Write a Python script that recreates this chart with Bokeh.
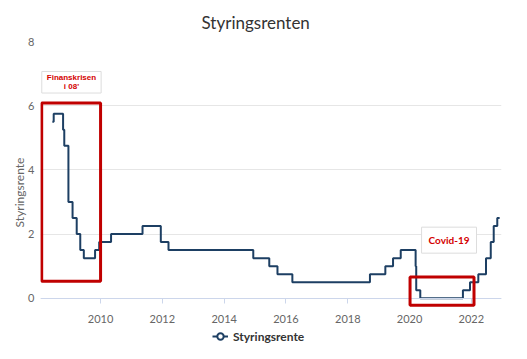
import numpy as np
import pandas as pd
from bokeh.plotting import figure
from bokeh.models import (ColumnDataSource, Range1d, FixedTicker, DatetimeAxis,
                          DatetimeTickFormatter, BoxAnnotation, Label, Legend, LegendItem)
from bokeh.embed import file_html
from bokeh.resources import INLINE

# ---- data (policy rate, step changes) ----
dates = ["2008-06-10", "2008-06-26", "2008-10-15", "2008-10-29", "2008-12-17",
         "2009-02-04", "2009-03-25", "2009-05-06", "2009-06-17", "2009-10-28",
         "2009-12-16", "2010-05-05", "2011-05-12", "2011-12-14", "2012-03-14",
         "2014-12-11", "2015-06-18", "2015-09-23", "2016-03-17", "2018-09-20",
         "2019-03-21", "2019-06-20", "2019-09-19", "2020-03-13", "2020-03-20",
         "2020-05-07", "2021-09-23", "2021-12-16", "2022-03-24", "2022-06-23",
         "2022-08-18", "2022-09-22", "2022-11-03", "2022-12-01"]
rates = [5.5, 5.75, 5.25, 4.75, 3.0,
         2.5, 2.0, 1.5, 1.25, 1.5,
         1.75, 2.0, 2.25, 1.75, 1.5,
         1.25, 1.0, 0.75, 0.5, 0.75,
         1.0, 1.25, 1.5, 1.0, 0.25,
         0.0, 0.25, 0.5, 0.75, 1.25,
         1.75, 2.25, 2.5, 2.5]
y_ticks = [0, 2, 4, 6, 8]
x_tick_years = [2010, 2012, 2014, 2016, 2018, 2020, 2022]
series_name = "Styringsrente"
title_text = "Styringsrenten"

LINE = "#1d3f63"
RED = "#c00000"
FONT = "Lato"

src = ColumnDataSource(dict(x=pd.to_datetime(dates), y=rates))

p = figure(width=511, height=343, x_axis_location=None,
           output_backend="svg", toolbar_location=None,
           x_range=Range1d(pd.Timestamp("2008-01-22"), pd.Timestamp("2022-12-23")),
           y_range=Range1d(-1.41, 8.0),
           min_border_left=40, min_border_right=10, min_border_top=0, min_border_bottom=0)
p.outline_line_color = None
p.background_fill_color = "white"

p.title.text = title_text
p.title.align = "left"
p.title.offset = 161
p.title.text_font = FONT
p.title.text_font_style = "normal"
p.title.text_font_size = "17px"
p.title.text_color = "#333333"
p.title.standoff = 18

# y axis
p.yaxis.ticker = FixedTicker(ticks=y_ticks)
p.yaxis.axis_line_color = None
p.yaxis.major_tick_line_color = None
p.yaxis.major_tick_in = 0
p.yaxis.major_tick_out = 0
p.yaxis.minor_tick_line_color = None
p.yaxis.minor_tick_out = 0
p.yaxis.major_label_text_font = FONT
p.yaxis.major_label_text_font_size = "11px"
p.yaxis.major_label_text_color = "#666666"
p.yaxis.major_label_standoff = 6
p.yaxis.axis_label = series_name
p.yaxis.axis_label_text_font = FONT
p.yaxis.axis_label_text_font_style = "normal"
p.yaxis.axis_label_text_font_size = "12px"
p.yaxis.axis_label_text_color = "#666666"
p.yaxis.axis_label_standoff = -2

# x axis placed at y = 0 inside the frame
year_ms = [pd.Timestamp(f"{y}-01-01").value / 1e6 for y in x_tick_years]
xaxis = DatetimeAxis(ticker=FixedTicker(ticks=year_ms),
                     formatter=DatetimeTickFormatter(years="%Y", months="%Y", days="%Y"),
                     fixed_location=0)
xaxis.axis_line_color = "#ccd6eb"
xaxis.major_tick_line_color = "#ccd6eb"
xaxis.major_tick_in = 0
xaxis.major_tick_out = 5
xaxis.minor_tick_line_color = None
xaxis.major_label_text_font = FONT
xaxis.major_label_text_font_size = "11px"
xaxis.major_label_text_color = "#666666"
xaxis.major_label_standoff = 12
p.add_layout(xaxis, "below")

p.xgrid.grid_line_color = None
p.ygrid.grid_line_color = "#e6e6e6"
p.ygrid.grid_line_width = 1

r = p.step(x="x", y="y", source=src, mode="after", line_color=LINE, line_width=2)
marker = p.scatter(x=pd.to_datetime(dates[:1]), y=[np.nan], marker="circle", size=8,
                   fill_color="white", line_color=LINE, line_width=2)

legend = Legend(items=[LegendItem(label=series_name, renderers=[r, marker])],
                location=(172, -3), orientation="horizontal",
                label_text_font=FONT, label_text_font_size="12px",
                label_text_font_style="bold", label_text_color="#333333",
                border_line_color=None, background_fill_alpha=0,
                padding=2, margin=0, glyph_width=16, label_standoff=5)
p.add_layout(legend)

# annotations
box1 = BoxAnnotation(left=pd.Timestamp("2008-02-05"), right=pd.Timestamp("2010-01-01"),
                     bottom=0.53, top=6.08, fill_alpha=0,
                     line_color=RED, line_alpha=1, line_width=3)
box2 = BoxAnnotation(left=pd.Timestamp("2020-01-07"), right=pd.Timestamp("2022-02-01"),
                     bottom=-0.22, top=0.66, fill_alpha=0,
                     line_color=RED, line_alpha=1, line_width=3)
p.add_layout(box1)
p.add_layout(box2)

lab1 = Label(x=pd.Timestamp("2009-01-22"), y=6.73, text="Finanskrisen\ni 08'",
             text_align="center", text_baseline="middle",
             text_font="Liberation Sans", text_font_style="bold",
             text_font_size="8px", text_color="#d40000", text_line_height=0.95,
             background_fill_color="white", border_line_color="#dddddd",
             padding=(5, 2))
lab2 = Label(x=pd.Timestamp("2021-04-12"), y=1.81, text="Covid-19",
             text_align="center", text_baseline="middle",
             text_font=FONT, text_font_style="bold",
             text_font_size="10px", text_color="#d40000",
             background_fill_color="white", border_line_color="#dddddd",
             padding=7)
p.add_layout(lab1)
p.add_layout(lab2)

open("out.html", "w").write(file_html(p, INLINE))
